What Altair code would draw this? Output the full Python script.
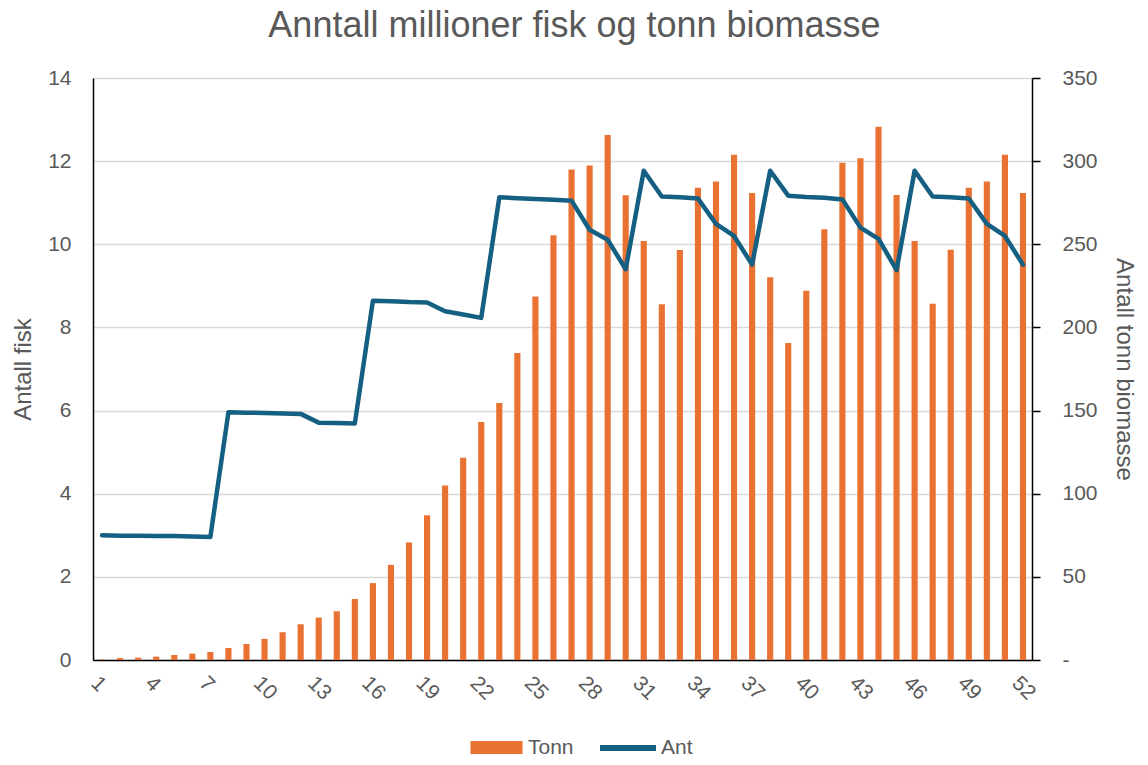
import altair as alt
import pandas as pd

weeks = list(range(1, 53))

ant = [3.00, 2.99, 2.99, 2.98, 2.98, 2.97, 2.96,
       5.96, 5.95, 5.94, 5.93, 5.92, 5.71, 5.70, 5.69,
       8.64, 8.63, 8.61, 8.60, 8.39, 8.31, 8.23,
       11.13, 11.11, 11.09, 11.07, 11.05, 10.35, 10.11, 9.40,
       11.77, 11.15, 11.13, 11.10, 10.49, 10.20, 9.51,
       11.77, 11.17, 11.14, 11.12, 11.08, 10.40, 10.13, 9.38,
       11.77, 11.15, 11.13, 11.10, 10.49, 10.20, 9.51]

tonn = [0.4, 1.2, 1.4, 2.0, 3.0, 3.8, 4.8, 7.2, 9.6, 12.7, 16.7, 21.5, 25.5,
        29.3, 36.7, 46.2, 57.2, 70.7, 87.0, 105.0, 121.6, 143.1, 154.5, 184.6,
        218.6, 255.5, 295.0, 297.4, 315.7, 279.5, 252.0, 214.0, 246.5, 284.0,
        287.8, 303.8, 280.9, 230.2, 190.7, 222.0, 259.1, 299.1, 301.8, 320.7,
        279.6, 252.0, 214.2, 246.7, 284.0, 287.8, 303.8, 280.9]

x_ticks = list(range(1, 53, 3))
left_ticks = list(range(0, 15, 2))
right_ticks = list(range(0, 351, 50))

ORANGE = "#E97132"
BLUE = "#156082"
GREY = "#595959"
FONT = "Liberation Sans"

df = pd.DataFrame({"Uke": weeks, "Ant": ant, "Tonn": tonn,
                   "sb": ["Tonn"] * 52, "sl": ["Ant"] * 52})

x = alt.X("Uke:O",
          scale=alt.Scale(paddingInner=0.66, paddingOuter=0.33),
          axis=alt.Axis(values=x_ticks, labelAngle=45, title=None, ticks=False,
                        domainColor="black", domainWidth=1.5,
                        labelFontSize=21, labelColor=GREY, labelFont=FONT,
                        labelPadding=12))

bars = alt.Chart(df).mark_bar(color=ORANGE).encode(
    x=x,
    y=alt.Y("Tonn:Q",
            scale=alt.Scale(domain=[0, 350]),
            axis=alt.Axis(orient="right", values=right_ticks, grid=False,
                          labelExpr="datum.value == 0 ? '-' : datum.label",
                          title="Antall tonn biomasse", titleFontSize=24,
                          titleFontWeight="normal", titleColor=GREY, titleFont=FONT,
                          titlePadding=14,
                          labelFontSize=21, labelColor=GREY, labelFont=FONT,
                          domainColor="black", domainWidth=1.5,
                          tickColor="black", tickSize=8, tickWidth=1.5,
                          labelPadding=22)),
    fill=alt.Fill("sb:N", scale=alt.Scale(domain=["Tonn"], range=[ORANGE]),
                  legend=alt.Legend(orient="none", legendX=393, legendY=659,
                                    title=None, padding=0,
                                    symbolType="M-2.6,-0.65H2.6V0.65H-2.6Z",
                                    symbolSize=400, symbolStrokeWidth=0,
                                    labelOffset=21,
                                    labelFontSize=21, labelColor=GREY,
                                    labelFont=FONT)),
)

line = alt.Chart(df).mark_line(color=BLUE, strokeWidth=4.5,
                               strokeJoin="round", strokeCap="round").encode(
    x=x,
    y=alt.Y("Ant:Q",
            scale=alt.Scale(domain=[0, 14]),
            axis=alt.Axis(orient="left", values=left_ticks, grid=True,
                          gridColor="#D9D9D9", gridWidth=1.5,
                          ticks=False, title="Antall fisk", titleFontSize=24,
                          titleFontWeight="normal", titleColor=GREY, titleFont=FONT,
                          titlePadding=12,
                          labelFontSize=21, labelColor=GREY, labelFont=FONT,
                          domainColor="black", domainWidth=1.5,
                          labelPadding=22)),
    stroke=alt.Stroke("sl:N", scale=alt.Scale(domain=["Ant"], range=[BLUE]),
                      legend=alt.Legend(orient="none", legendX=522, legendY=657,
                                        title=None, padding=0,
                                        symbolType="M-2.8,0H2.8", symbolSize=400,
                                        symbolStrokeWidth=6, labelOffset=20,
                                        labelFontSize=21, labelColor=GREY,
                                        labelFont=FONT)),
)

chart = alt.layer(bars, line).resolve_scale(y="independent").properties(
    width=939, height=582,
    autosize=alt.AutoSizeParams(type="none"),
    padding={"left": 85, "top": 70, "right": 108, "bottom": 97},
    title=alt.TitleParams("Anntall millioner fisk og tonn biomasse",
                          fontSize=36, font=FONT, fontWeight="normal",
                          color=GREY, anchor="middle", offset=22, dx=12),
).configure_view(stroke=None)

chart.save("out.html", embed_options={"renderer": "svg", "actions": False})
